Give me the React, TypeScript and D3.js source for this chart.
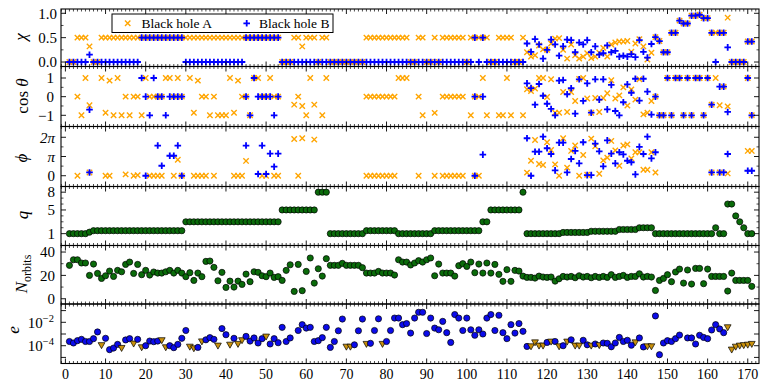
import * as d3 from "d3";

const _ = null;

// simulation number along the shared x axis
const simIds = d3.range(1, 172);

// spin magnitudes
const chiA = [
  0, 0, .5, .5, .5, .32, 0, 0, .5, .5,
  .5, .5, .5, .5, .5, .5, .5, .5, .5, .5,
  .5, .5, .5, .5, .5, .5, .5, .5, .5, .5,
  .5, .5, .5, .5, .5, .5, .5, .5, .5, .5,
  .5, .5, .5, .5, .5, .5, .5, .5, .5, .5,
  .5, .5, .5, 0, 0, 0, .5, .5, .32, .5,
  .5, .5, 0, .5, .5, 0, 0, 0, 0, 0,
  0, 0, 0, 0, .5, .5, .5, .5, .5, .5,
  .5, .5, .5, .5, .5, 0, 0, .5, .5, 0,
  0, .5, 0, .5, .5, .5, .5, .5, .5, 0,
  .5, .5, .5, .5, .5, 0, 0, .5, .5, .5,
  .5, 0, 0, .5, .2, .11, .14, .34, .26, .25,
  .38, .48, .49, .25, .07, .36, .14, .07, .11, .18,
  .08, .11, .19, .29, .11, .36, .4, .42, .42, .43,
  .21, .38, .47, .32, .05, .19, .51, .43, .2, .2,
  .6, .6, .85, .79, .79, .95, .95, .97, .9, .9,
  .6, .6, .6, .6, .91, 0, 0, 0, 0, .42, .42,
];
const chiB = [
  0, 0, 0, 0, 0, .15, 0, 0, 0, 0,
  0, 0, 0, 0, 0, 0, 0, 0, .5, .5,
  .5, .5, .5, .5, .5, .5, .5, .5, .5, 0,
  0, 0, 0, 0, 0, 0, 0, 0, 0, 0,
  0, 0, 0, 0, .5, .5, .5, .5, .5, .5,
  .5, .5, .5, 0, 0, 0, 0, 0, 0, 0,
  0, 0, 0, 0, 0, 0, 0, 0, 0, 0,
  0, 0, 0, 0, 0, 0, 0, 0, 0, 0,
  0, 0, 0, 0, 0, 0, 0, 0, 0, 0,
  0, 0, 0, 0, 0, 0, 0, 0, 0, 0,
  0, .5, 0, .5, 0, 0, 0, 0, 0, 0,
  0, 0, 0, 0, .38, .21, .47, .36, .07, .25,
  .46, .36, .13, .32, .46, .45, .2, .4, .36, .45,
  .2, .32, .15, .18, .34, .2, .23, .11, .13, .11,
  .16, .1, .45, .21, .09, .37, .51, .43, .2, .2,
  .6, .6, .85, .79, .79, .95, .95, .97, .9, .9,
  .6, 0, .6, .6, .3, 0, 0, 0, 0, .42, .42,
];

// cos(theta) of each spin (null: no spin)
const cosA = [
  _, _, 0, -1, 1, -.46, _, _, 1, -.86,
  .86, -1, 1, -1, 0, -1, 0, 0, -1, 1,
  0, 0, 0, 0, 1, 1, 0, 1, 0, _,
  1, -.86, .86, 0, 0, -1, 0, -1, -1, -1,
  1, -.86, .86, 0, 0, -1, 1, 1, 0, 0,
  1, 0, 0, _, _, _, -.43, 0, -.5, -1,
  1, -.43, _, -1, 1, _, _, _, _, _,
  _, _, _, _, 0, 0, 0, 0, 0, 0,
  0, 0, 1, 1, 1, _, _, 0, -1, _,
  _, -.87, _, 0, 0, 0, 0, 0, 0, _,
  -1, 0, 0, 1, -1, _, _, -1, -1, 1,
  -1, _, _, -1, .4, .3, .43, 1, 1, -.02,
  .93, -.86, -.86, .25, -.82, .25, -.23, .95, 1, -.1,
  -.86, -.07, -.82, -.07, .18, .88, -.1, .07, .5, -.48,
  .39, -.16, .93, -.95, -.86, -.23, 0, -1, -1, 1,
  -1, 1, 1, -1, 1, -1, 1, 1, -1, 1,
  -.43, 1, -.46, .54, -.52, _, _, _, _, 1, -1,
];
const cosB = [
  _, _, _, _, _, -.7, _, _, _, _,
  _, _, _, _, _, _, _, _, 1, 0,
  -1, 1, 0, 0, -1, 0, 0, 0, 0, _,
  _, _, _, _, _, _, _, _, _, _,
  _, _, _, _, 0, -1, 1, 0, 0, 0,
  0, -1, 0, _, _, _, _, _, _, _,
  _, _, _, _, _, _, _, _, _, _,
  _, _, _, _, _, _, _, _, _, _,
  _, _, _, _, _, _, _, _, _, _,
  _, _, _, _, _, _, _, _, _, _,
  _, 0, _, 0, _, _, _, _, _, _,
  _, _, _, _, .71, .46, -.43, .68, .05, -.38,
  -.66, -1, .86, .89, .13, .45, -.91, .93, -.23, .71,
  -.86, .93, -.16, .93, -.68, .63, -.77, -1, -.3, .66,
  .21, .96, -.21, .96, .27, -.96, 0, -1, -1, 1,
  -1, 1, 1, -1, 1, -1, 1, 1, -1, 1,
  -.43, _, .54, .54, -.82, _, _, _, _, 1, -1,
];

// azimuthal angle phi, in units of pi
const phiA = [
  _, _, 0, _, _, .17, _, _, _, 0,
  0, _, _, _, .07, _, 0, .03, _, _,
  0, 0, 0, 0, _, _, 0, .83, 0, _,
  _, 0, 0, 0, 0, _, 0, _, _, _,
  _, 0, 0, 0, .77, _, _, _, 0, 0,
  _, 0, 0, _, _, _, 1.91, 0, 1.95, _,
  _, 1.88, _, _, _, _, _, _, _, _,
  _, _, _, _, 0, 0, 0, 0, 0, 0,
  0, 0, _, _, _, _, _, 0, _, _,
  _, 0, _, 0, 0, 0, 0, 0, 0, _,
  _, 0, 0, _, _, _, _, _, _, _,
  _, _, _, _, .16, .78, 1.86, .61, .56, 1.74,
  1.34, .59, 0, 1.95, .42, 1.29, 1.57, 0, 1.08, .05,
  1.93, 1.53, .1, .8, .94, 1.81, 1.32, .52, 1.57, 1.63,
  .9, 1.22, 1.22, .31, .31, 1.22, .17, _, _, _,
  _, _, _, _, _, _, _, _, _, _,
  .17, _, .17, _, .12, _, _, _, _, 1.29, 1.29,
];
const phiB = [
  _, _, _, _, _, .17, _, _, _, _,
  _, _, _, _, _, _, _, _, _, 0,
  _, _, 1.57, .52, _, 1.04, 1.04, 1.57, 0, _,
  _, _, _, _, _, _, _, _, _, _,
  _, _, _, _, 1.57, _, _, .09, 1.57, .09,
  1.15, .47, 1.15, _, _, _, _, _, _, _,
  _, _, _, _, _, _, _, _, _, _,
  _, _, _, _, _, _, _, _, _, _,
  _, _, _, _, _, _, _, _, _, _,
  _, _, _, _, _, _, _, _, _, _,
  _, 0, _, 1.1, _, _, _, _, _, _,
  _, _, _, _, 1.95, 0, 1.25, 1.25, 2.03, 1.43,
  1.13, .28, 1.72, 1.72, .17, .87, 1.29, .64, 1.74, .03,
  .03, 1.67, 1.27, .49, 1.84, 1.15, .64, 1.22, 1.11, .78,
  .7, .07, 1.5, 1.13, 2.03, .9, 1.22, _, _, _,
  _, _, _, _, _, _, _, _, _, _,
  .17, _, .17, .17, 1.13, _, _, _, _, .26, .26,
];

// mass ratio
const massRatio = [
  1, 1, 1, 1, 1, 1.25, 1.5, 1.5, 1.5, 1.5,
  1.5, 1.5, 1.5, 1.5, 1.5, 1.5, 1.5, 1.5, 1.5, 1.5,
  1.5, 1.5, 1.5, 1.5, 1.5, 1.5, 1.5, 1.5, 1.5, 3,
  3, 3, 3, 3, 3, 3, 3, 3, 3, 3,
  3, 3, 3, 3, 3, 3, 3, 3, 3, 3,
  3, 3, 3, 5, 5, 5, 5, 5, 5, 5,
  5, 5, 8, 8, 8, 1, 1, 1, 1, 1,
  1, 1, 1, 1, 1.5, 1.5, 1.5, 1.5, 1.5, 1.5,
  1.5, 1.5, 1, 1, 1, 1, 1, 1, 1, 1,
  1, 1.5, 1.5, 1.5, 1.5, 1.5, 1.5, 1.5, 1.5, 1.5,
  1.5, 1.5, 1.5, 3, 3, 5, 5, 5, 5, 5,
  5, 5, 5, 8, 1, 1, 1, 1, 1, 1,
  1, 1, 1, 1.2, 1.2, 1.2, 1.2, 1.2, 1.2, 1.2,
  1.4, 1.4, 1.4, 1.4, 1.4, 1.4, 1.4, 1.7, 1.7, 1.7,
  1.7, 1.7, 2, 2, 2, 2, 1, 1, 1, 1,
  1, 1, 1, 1, 1, 1, 1, 1, 1, 1,
  1, 2, 1, 1, 6, 6, 4, 3, 2, 1, 1,
];

// number of orbits
const nOrbits = [
  28.6, 33.4, 33.4, 30.6, 30.6, 20, 29.7, 21.7, 17.4, 19.7,
  23.7, 19.1, 24.3, 23.1, 29.4, 31.4, 21.7, 29.4, 20.6, 24.3,
  20.3, 22.9, 22, 22, 23.1, 24.3, 22, 24.3, 22, 18.9,
  22.3, 15.7, 22, 18.9, 32, 32.3, 26.9, 15.4, 22.6, 9.7,
  15.1, 10, 15.1, 12.3, 21.1, 14.6, 23.1, 22.6, 19.7, 18.9,
  22, 18.3, 18.9, 15.7, 24.3, 29.1, 6.3, 29.4, 6.9, 23.4,
  34.9, 13.4, 25.7, 19.4, 34.3, 28.6, 28.6, 28.6, 30.3, 28.6,
  28.6, 28.6, 28.6, 26.6, 22, 22, 22, 23.4, 22, 22,
  22, 20.3, 33.4, 31.4, 31.4, 28.9, 30.6, 32.6, 31.4, 33.4,
  34.9, 19.7, 29.7, 22, 22, 22, 19.4, 28.3, 30, 27.7,
  31.4, 22.3, 29.7, 22, 30.6, 22, 29.4, 20.9, 14.9, 24.9,
  14.9, 24.3, 23.7, 19.4, 18.3, 18.3, 17.7, 19.4, 18.6, 18.3,
  18.6, 15.1, 17.1, 19.1, 18.6, 19.1, 18, 19.7, 18.6, 19.1,
  18, 19.1, 18.3, 19.1, 18.3, 20.6, 18.3, 19.1, 20, 18.3,
  19.1, 19.1, 21.4, 18.6, 19.1, 18.6, 7.1, 15.7, 17.4, 20.6,
  14.6, 22.9, 25.4, 13.4, 24.6, 12.6, 26, 26, 12.9, 25.4,
  19.1, 19.1, 19.1, 19.1, 6.6, 22, 15.7, 15.7, 15.7, 15.7, 10.6,
];

// eccentricity
const ecc = [
  2.3e-4, 1.7e-4, 2.7e-4, 3.5e-4, 2.3e-4, 2.3e-4, 4.0e-4, 1.5e-3, 1.1e-4, 4.3e-4,
  4.6e-5, 6.3e-5, 1.3e-4, 6.3e-5, 3.1e-4, 4.0e-4, 1.5e-4, 3.5e-4, 7.2e-5, 1.0e-4,
  2.5e-4, 2.2e-4, 2.5e-4, 2.9e-4, 7.2e-5, 1.0e-4, 6.8e-5, 1.3e-4, 4.3e-4, 2.0e-3,
  8.1e-5, 5.9e-5, 7.2e-5, 2.3e-4, 3.2e-4, 4.9e-4, 3.5e-4, 1.0e-4, 2.9e-3, 8.7e-4,
  1.2e-4, 4.3e-4, 1.4e-4, 2.9e-4, 6.3e-4, 2.5e-4, 4.6e-4, 1.7e-4, 4.0e-4, 5.9e-4,
  1.4e-4, 4.0e-4, 1.8e-4, 3.7e-3, 2.3e-4, 4.6e-4, _, 2.0e-3, 6.3e-3, 3.2e-3,
  3.7e-3, 2.3e-4, 2.7e-4, 4.9e-4, 3.7e-3, 7.2e-5, 2.3e-4, 1.9e-3, 1.9e-2, 8.1e-5,
  8.1e-5, 1.2e-4, 1.9e-3, 1.9e-2, 1.4e-4, 1.6e-4, 2.0e-3, 2.0e-2, 1.4e-4, 2.3e-4,
  2.0e-3, 2.3e-2, 2.3e-2, 6.3e-3, 7.8e-3, 1.2e-3, 2.3e-2, 7.2e-2, 7.2e-2, 1.1e-3,
  2.3e-2, 3.2e-3, 2.3e-3, 1.2e-2, 1.3e-3, 1.9e-4, 4.6e-2, 2.3e-2, 2.0e-3, 2.3e-2,
  2.3e-3, 7.8e-4, 2.3e-3, 1.0e-3, 2.3e-2, 4.6e-2, 2.0e-3, 4.0e-2, 1.3e-3, 4.0e-4,
  6.3e-3, 1.2e-3, 7.8e-3, 1.7e-3, 8.7e-5, 8.7e-5, 1.9e-4, 1.0e-4, 1.0e-4, 1.9e-4,
  2.2e-4, 2.3e-4, 8.7e-5, 1.0e-4, 2.2e-4, 3.2e-4, 1.0e-4, 1.0e-4, 2.9e-4, 1.2e-4,
  1.0e-4, 1.4e-4, 1.1e-4, 1.7e-4, 1.6e-4, 8.1e-5, 1.7e-4, 5.1e-4, 2.3e-4, 2.9e-4,
  1.1e-4, 1.9e-4, 4.6e-4, 7.8e-5, 8.7e-5, 8.7e-5, 3.5e-2, 1.7e-5, 1.7e-4, 2.7e-4,
  2.3e-4, 4.0e-4, 8.1e-4, _, 4.6e-4, 4.6e-4, 1.4e-4, 7.8e-4, 5.1e-4, 4.0e-4,
  2.2e-3, 6.3e-3, 2.7e-3, 1.3e-3, 3.7e-3, 4.6e-5, 8.1e-5, 1.0e-4, 1.1e-4, 1.2e-4, 1.4e-4,
];
// simulations whose eccentricity is only an upper bound (triangles)
const eccUpperIds = [
  9, 14, 17, 19, 24, 25, 31, 32, 34, 38, 41, 43, 44, 50, 70, 71, 75, 79,
  116, 117, 118, 119, 121, 123, 125, 127, 128, 131, 133, 142, 145, 146,
  165, 166, 167, 168, 169, 170, 171,
];

const xTickValues = d3.range(0, 171, 10);

const W = 762;
const H = 383;
const FONT = "'Liberation Serif', 'DejaVu Serif', serif";
const ORANGE = "#ffa500";
const BLUE = "#0000ff";

const left = 61;
const right = 759;
const x = d3.scaleLinear().domain([-1.1, 172.8]).range([left, right]);

const yChi = d3.scaleLinear().domain([-0.092, 1.088]).range([66.5, 9]);
const yCos = d3.scaleLinear().domain([-1.6, 1.617]).range([126.5, 66.5]);
const yPhi = d3.scaleLinear().domain([-0.56, 2.56]).range([186.5, 126.5]);
const yQ = d3.scaleLinear().domain([-1, 8.96]).range([245.5, 186.5]);
const yN = d3.scaleLinear().domain([-4.5, 45.6]).range([304, 245.5]);
const yE = d3.scaleLog().domain([10 ** -5.52, 10 ** -0.436]).range([363.5, 304]);

type Panel = {
  y: any;
  major: number[];
  minor: number[];
  labels: { v: number; node: any }[];
  labelX: number;
};

const piLabel = (k: number) => (k === 0 ? "0" : k === 1 ? "π" : `${k}π`);
const powLabel = (p: number) => (
  <>
    10<tspan dy={-6} fontSize={10.5}>{`−${-p}`}</tspan>
  </>
);

const panels: Panel[] = [
  {
    y: yChi, major: [0, 0.5, 1], minor: [0.25, 0.75],
    labels: [0, 0.5, 1].map((v) => ({ v, node: v.toFixed(1) })), labelX: 57,
  },
  {
    y: yCos, major: [-1, 0, 1], minor: [-0.5, 0.5],
    labels: [-1, 0, 1].map((v) => ({ v, node: v < 0 ? "−1" : String(v) })), labelX: 54,
  },
  {
    y: yPhi, major: [0, 1, 2], minor: [0.5, 1.5],
    labels: [0, 1, 2].map((v) => ({ v, node: <tspan fontStyle={v ? "italic" : "normal"}>{piLabel(v)}</tspan> })), labelX: 55,
  },
  {
    y: yQ, major: [1, 5, 8], minor: [2, 3, 4, 6, 7],
    labels: [1, 5, 8].map((v) => ({ v, node: String(v) })), labelX: 55,
  },
  {
    y: yN, major: [0, 20, 40], minor: [10, 30],
    labels: [0, 20, 40].map((v) => ({ v, node: String(v) })), labelX: 55,
  },
  {
    y: yE, major: [1e-5, 1e-4, 1e-3, 1e-2, 1e-1], minor: [],
    labels: [-4, -2].map((p) => ({ v: 10 ** p, node: powLabel(p) })), labelX: 54,
  },
];

function Cross({ cx, cy }: { cx: number; cy: number }) {
  const r = 2.7;
  return (
    <path
      d={`M${cx - r},${cy - r}L${cx + r},${cy + r}M${cx - r},${cy + r}L${cx + r},${cy - r}`}
      stroke={ORANGE}
      strokeWidth={1.4}
      fill="none"
    />
  );
}

function Plus({ cx, cy }: { cx: number; cy: number }) {
  const r = 3.3;
  return (
    <path
      d={`M${cx - r},${cy}H${cx + r}M${cx},${cy - r}V${cy + r}`}
      stroke={BLUE}
      strokeWidth={1.8}
      fill="none"
    />
  );
}

function PanelFrame({ p }: { p: Panel }) {
  const [y0, y1] = p.y.range();
  const xMinor = d3.range(-1, 173).filter((v) => v % 10 !== 0);
  return (
    <g>
      {/* x ticks on bottom and top edge, pointing in */}
      {xMinor.map((v) => (
        <g key={`xm${v}`} stroke="#000" strokeWidth={0.7}>
          <line x1={x(v)} x2={x(v)} y1={y0} y2={y0 - 2.5} />
          <line x1={x(v)} x2={x(v)} y1={y1} y2={y1 + 2.5} />
        </g>
      ))}
      {xTickValues.map((v) => (
        <g key={`xM${v}`} stroke="#000" strokeWidth={0.9}>
          <line x1={x(v)} x2={x(v)} y1={y0} y2={y0 - 5} />
          <line x1={x(v)} x2={x(v)} y1={y1} y2={y1 + 5} />
        </g>
      ))}
      {p.major.map((v) => (
        <g key={`yM${v}`} stroke="#000" strokeWidth={0.9}>
          <line x1={left} x2={left + 5} y1={p.y(v)} y2={p.y(v)} />
          <line x1={right} x2={right - 5} y1={p.y(v)} y2={p.y(v)} />
        </g>
      ))}
      {p.minor.map((v) => (
        <g key={`ym${v}`} stroke="#000" strokeWidth={0.7}>
          <line x1={left} x2={left + 2.5} y1={p.y(v)} y2={p.y(v)} />
          <line x1={right} x2={right - 2.5} y1={p.y(v)} y2={p.y(v)} />
        </g>
      ))}
      {p.labels.map((l, i) => (
        <text key={i} x={p.labelX} y={p.y(l.v)} dy="0.35em" textAnchor="end" fontSize={15}>
          {l.node}
        </text>
      ))}
      <rect x={left} y={y1} width={right - left} height={y0 - y1} fill="none" stroke="#000" strokeWidth={1.1} />
    </g>
  );
}

function YLabel({ cx, cy, children }: { cx: number; cy: number; children: any }) {
  return (
    <text
      transform={`translate(${cx},${cy}) rotate(-90)`}
      textAnchor="middle"
      dy="0.35em"
      fontSize={17}
    >
      {children}
    </text>
  );
}

function SpinSeries({ valsA, valsB, y }: { valsA: (number | null)[]; valsB: (number | null)[]; y: any }) {
  return (
    <g>
      {simIds.map((id, i) =>
        valsA[i] == null ? null : <Cross key={`a${id}`} cx={x(id)} cy={y(valsA[i])} />
      )}
      {simIds.map((id, i) =>
        valsB[i] == null ? null : <Plus key={`b${id}`} cx={x(id)} cy={y(valsB[i])} />
      )}
    </g>
  );
}

export default function App() {
  const upper = new Set(eccUpperIds);
  const tri = (cx: number, cy: number) =>
    `M${cx - 3.4},${cy - 2.6}L${cx + 3.4},${cy - 2.6}L${cx},${cy + 3.4}Z`;
  return (
    <svg
      width={W}
      height={H}
      viewBox={`0 0 ${W} ${H}`}
      style={{ position: "absolute", left: 0, top: 0, background: "#fff" }}
      fontFamily={FONT}
    >
      <rect width={W} height={H} fill="#fff" />

      <SpinSeries valsA={chiA} valsB={chiB} y={yChi} />
      <SpinSeries valsA={cosA} valsB={cosB} y={yCos} />
      <SpinSeries valsA={phiA} valsB={phiB} y={yPhi} />

      <g stroke="#000" strokeWidth={0.7} fill="#0a6b0a">
        {simIds.map((id, i) => (
          <circle key={`q${id}`} cx={x(id)} cy={yQ(massRatio[i])} r={3.1} />
        ))}
        {simIds.map((id, i) => (
          <circle key={`n${id}`} cx={x(id)} cy={yN(nOrbits[i])} r={3.1} />
        ))}
      </g>

      <g stroke="#000" strokeWidth={0.7}>
        {simIds.map((id, i) => {
          const v = ecc[i];
          if (v == null) return null;
          return upper.has(id) ? (
            <path key={`e${id}`} d={tri(x(id), yE(v))} fill="#c8900c" />
          ) : (
            <circle key={`e${id}`} cx={x(id)} cy={yE(v)} r={3.1} fill="#0b0bea" />
          );
        })}
      </g>

      {panels.map((p, i) => (
        <PanelFrame key={i} p={p} />
      ))}

      {xTickValues.map((v) => (
        <text key={v} x={x(v)} y={379} textAnchor="middle" fontSize={14}>
          {v}
        </text>
      ))}

      <YLabel cx={20} cy={37}>
        <tspan fontStyle="italic">χ</tspan>
      </YLabel>
      <YLabel cx={22} cy={96}>
        cos <tspan fontStyle="italic">θ</tspan>
      </YLabel>
      <YLabel cx={21} cy={158}>
        <tspan fontStyle="italic">ϕ</tspan>
      </YLabel>
      <YLabel cx={22} cy={215}>
        <tspan fontStyle="italic">q</tspan>
      </YLabel>
      <YLabel cx={21} cy={274}>
        <tspan fontStyle="italic">N</tspan>
        <tspan fontSize={12} dy={4}>orbits</tspan>
      </YLabel>
      <YLabel cx={13} cy={330}>
        <tspan fontStyle="italic">e</tspan>
      </YLabel>

      {/* legend */}
      <g>
        <rect x={112} y={14} width={221} height={18.5} fill="#fff" stroke="#000" strokeWidth={1} />
        <Cross cx={127.7} cy={23.3} />
        <text x={141.5} y={23.3} dy="0.35em" fontSize={13.5}>Black hole A</text>
        <Plus cx={246.7} cy={23.3} />
        <text x={259} y={23.3} dy="0.35em" fontSize={13.5}>Black hole B</text>
      </g>
    </svg>
  );
}
